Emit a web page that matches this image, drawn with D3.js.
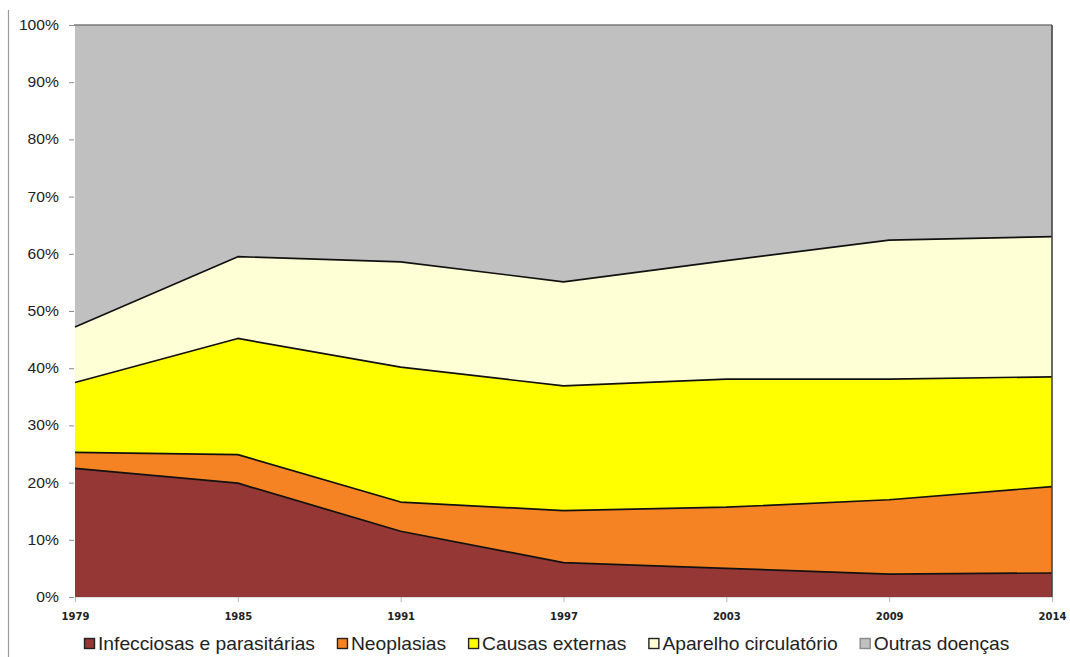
<!DOCTYPE html>
<html>
<head>
<meta charset="utf-8">
<script src="https://cdn.jsdelivr.net/npm/d3@7"></script>
<style>
  html, body { margin: 0; padding: 0; background: #fff; }
  svg { display: block; }
</style>
</head>
<body>
<svg id="chart" width="1070" height="657"></svg>
<script>
// Years on the horizontal axis
const years = ["1979", "1985", "1991", "1997", "2003", "2009", "2014"];

// Share of deaths (%) by group of causes, per year
const infecciosas = [22.5, 19.9, 11.5, 6.0, 5.0, 4.0, 4.2];
const neoplasias  = [2.8, 5.0, 5.1, 9.1, 10.7, 13.0, 15.1];
const causasExt   = [12.2, 20.3, 23.6, 21.8, 22.4, 21.1, 19.2];
const aparelho    = [9.7, 14.3, 18.4, 18.2, 20.7, 24.3, 24.5];
const outras      = [52.8, 40.5, 41.4, 44.9, 41.2, 37.6, 37.0];

const seriesNames = ["Infecciosas e parasitárias", "Neoplasias", "Causas externas",
                     "Aparelho circulatório", "Outras doenças"];
const seriesValues = [infecciosas, neoplasias, causasExt, aparelho, outras];
const yTicks = [0, 0.1, 0.2, 0.3, 0.4, 0.5, 0.6, 0.7, 0.8, 0.9, 1];

const colors = ["#953735", "#f68323", "#ffff00", "#ffffd6", "#c0c0c0"];
const markerStroke = ["#222", "#222", "#222", "#222", "#8a8a8a"];

const svg = d3.select("#chart");
const plotLeft = 75, plotRight = 1052, plotTop = 25, plotBottom = 597;

// table built from the named arrays
const rows = years.map((yr, i) => {
  const r = { year: yr };
  seriesNames.forEach((s, k) => r[s] = seriesValues[k][i]);
  return r;
});

const stack = d3.stack().keys(seriesNames).offset(d3.stackOffsetExpand);
const layers = stack(rows);

const x = d3.scalePoint().domain(years).range([plotLeft, plotRight]);
const y = d3.scaleLinear().domain([0, 1]).range([plotBottom, plotTop]);

// outer frame line at the left
svg.append("line")
  .attr("x1", 8.5).attr("x2", 8.5).attr("y1", 10).attr("y2", 657)
  .attr("stroke", "#9a9a9a").attr("stroke-width", 1.2);

const area = d3.area()
  .x(d => x(d.data.year))
  .y0(d => y(d[0]))
  .y1(d => y(d[1]));

svg.append("g").selectAll("path")
  .data(layers)
  .join("path")
  .attr("d", area)
  .attr("fill", (d, i) => colors[i]);

// boundary lines on top of each layer (except the last one)
const topLine = d3.line()
  .x(d => x(d.data.year))
  .y(d => y(d[1]));

svg.append("g").selectAll("path")
  .data(layers.slice(0, layers.length - 1))
  .join("path")
  .attr("d", topLine)
  .attr("fill", "none")
  .attr("stroke", "#111")
  .attr("stroke-width", 1.7)
  .attr("stroke-linejoin", "round");

// plot frame: top and right edges
svg.append("line")
  .attr("x1", plotLeft - 1).attr("x2", plotRight).attr("y1", y(1)).attr("y2", y(1))
  .attr("stroke", "#7a7a7a").attr("stroke-width", 1.6);
svg.append("line")
  .attr("x1", plotRight).attr("x2", plotRight).attr("y1", y(1)).attr("y2", y(0))
  .attr("stroke", "#444").attr("stroke-width", 1.6);

// y axis
const yAxis = svg.append("g")
  .attr("transform", `translate(${plotLeft},0)`)
  .call(d3.axisLeft(y).tickValues(yTicks).tickFormat(d3.format(".0%")).tickSize(6).tickPadding(10));
yAxis.select(".domain").remove();
yAxis.selectAll(".tick line").attr("stroke", "#8a8a8a").attr("x1", -1);
yAxis.selectAll(".tick text")
  .attr("x", null)
  .attr("transform", "translate(-16,0) scale(1.12,1)")
  .attr("font-family", "'Liberation Sans', Arial, sans-serif")
  .attr("font-size", 14)
  .attr("fill", "#222");

// x axis
const xAxis = svg.append("g")
  .attr("transform", `translate(0,${plotBottom})`)
  .call(d3.axisBottom(x).tickSize(5).tickPadding(11));
xAxis.select(".domain").attr("stroke", "#dcdcdc");
xAxis.selectAll(".tick line").attr("stroke", "#b5b5b5");
xAxis.selectAll(".tick text")
  .attr("font-family", "'DejaVu Sans', Verdana, sans-serif")
  .attr("font-weight", "bold")
  .attr("font-size", 10)
  .attr("fill", "#222");

// legend
const legend = svg.append("g");
let lx = 84;
seriesNames.forEach((name, i) => {
  const g = legend.append("g");
  g.append("rect")
    .attr("x", lx + 0.5).attr("y", 638.5)
    .attr("width", 10).attr("height", 10)
    .attr("fill", colors[i])
    .attr("stroke", markerStroke[i]).attr("stroke-width", 1.4);
  const t = g.append("text")
    .attr("transform", `translate(${lx + 14},650) scale(1.1,1)`)
    .attr("font-family", "'Liberation Sans', Arial, sans-serif")
    .attr("font-size", 17.5)
    .attr("fill", "#222")
    .text(name);
  const w = t.node().getComputedTextLength() * 1.1;
  lx += 14 + w + 22;
});
</script>
</body>
</html>
